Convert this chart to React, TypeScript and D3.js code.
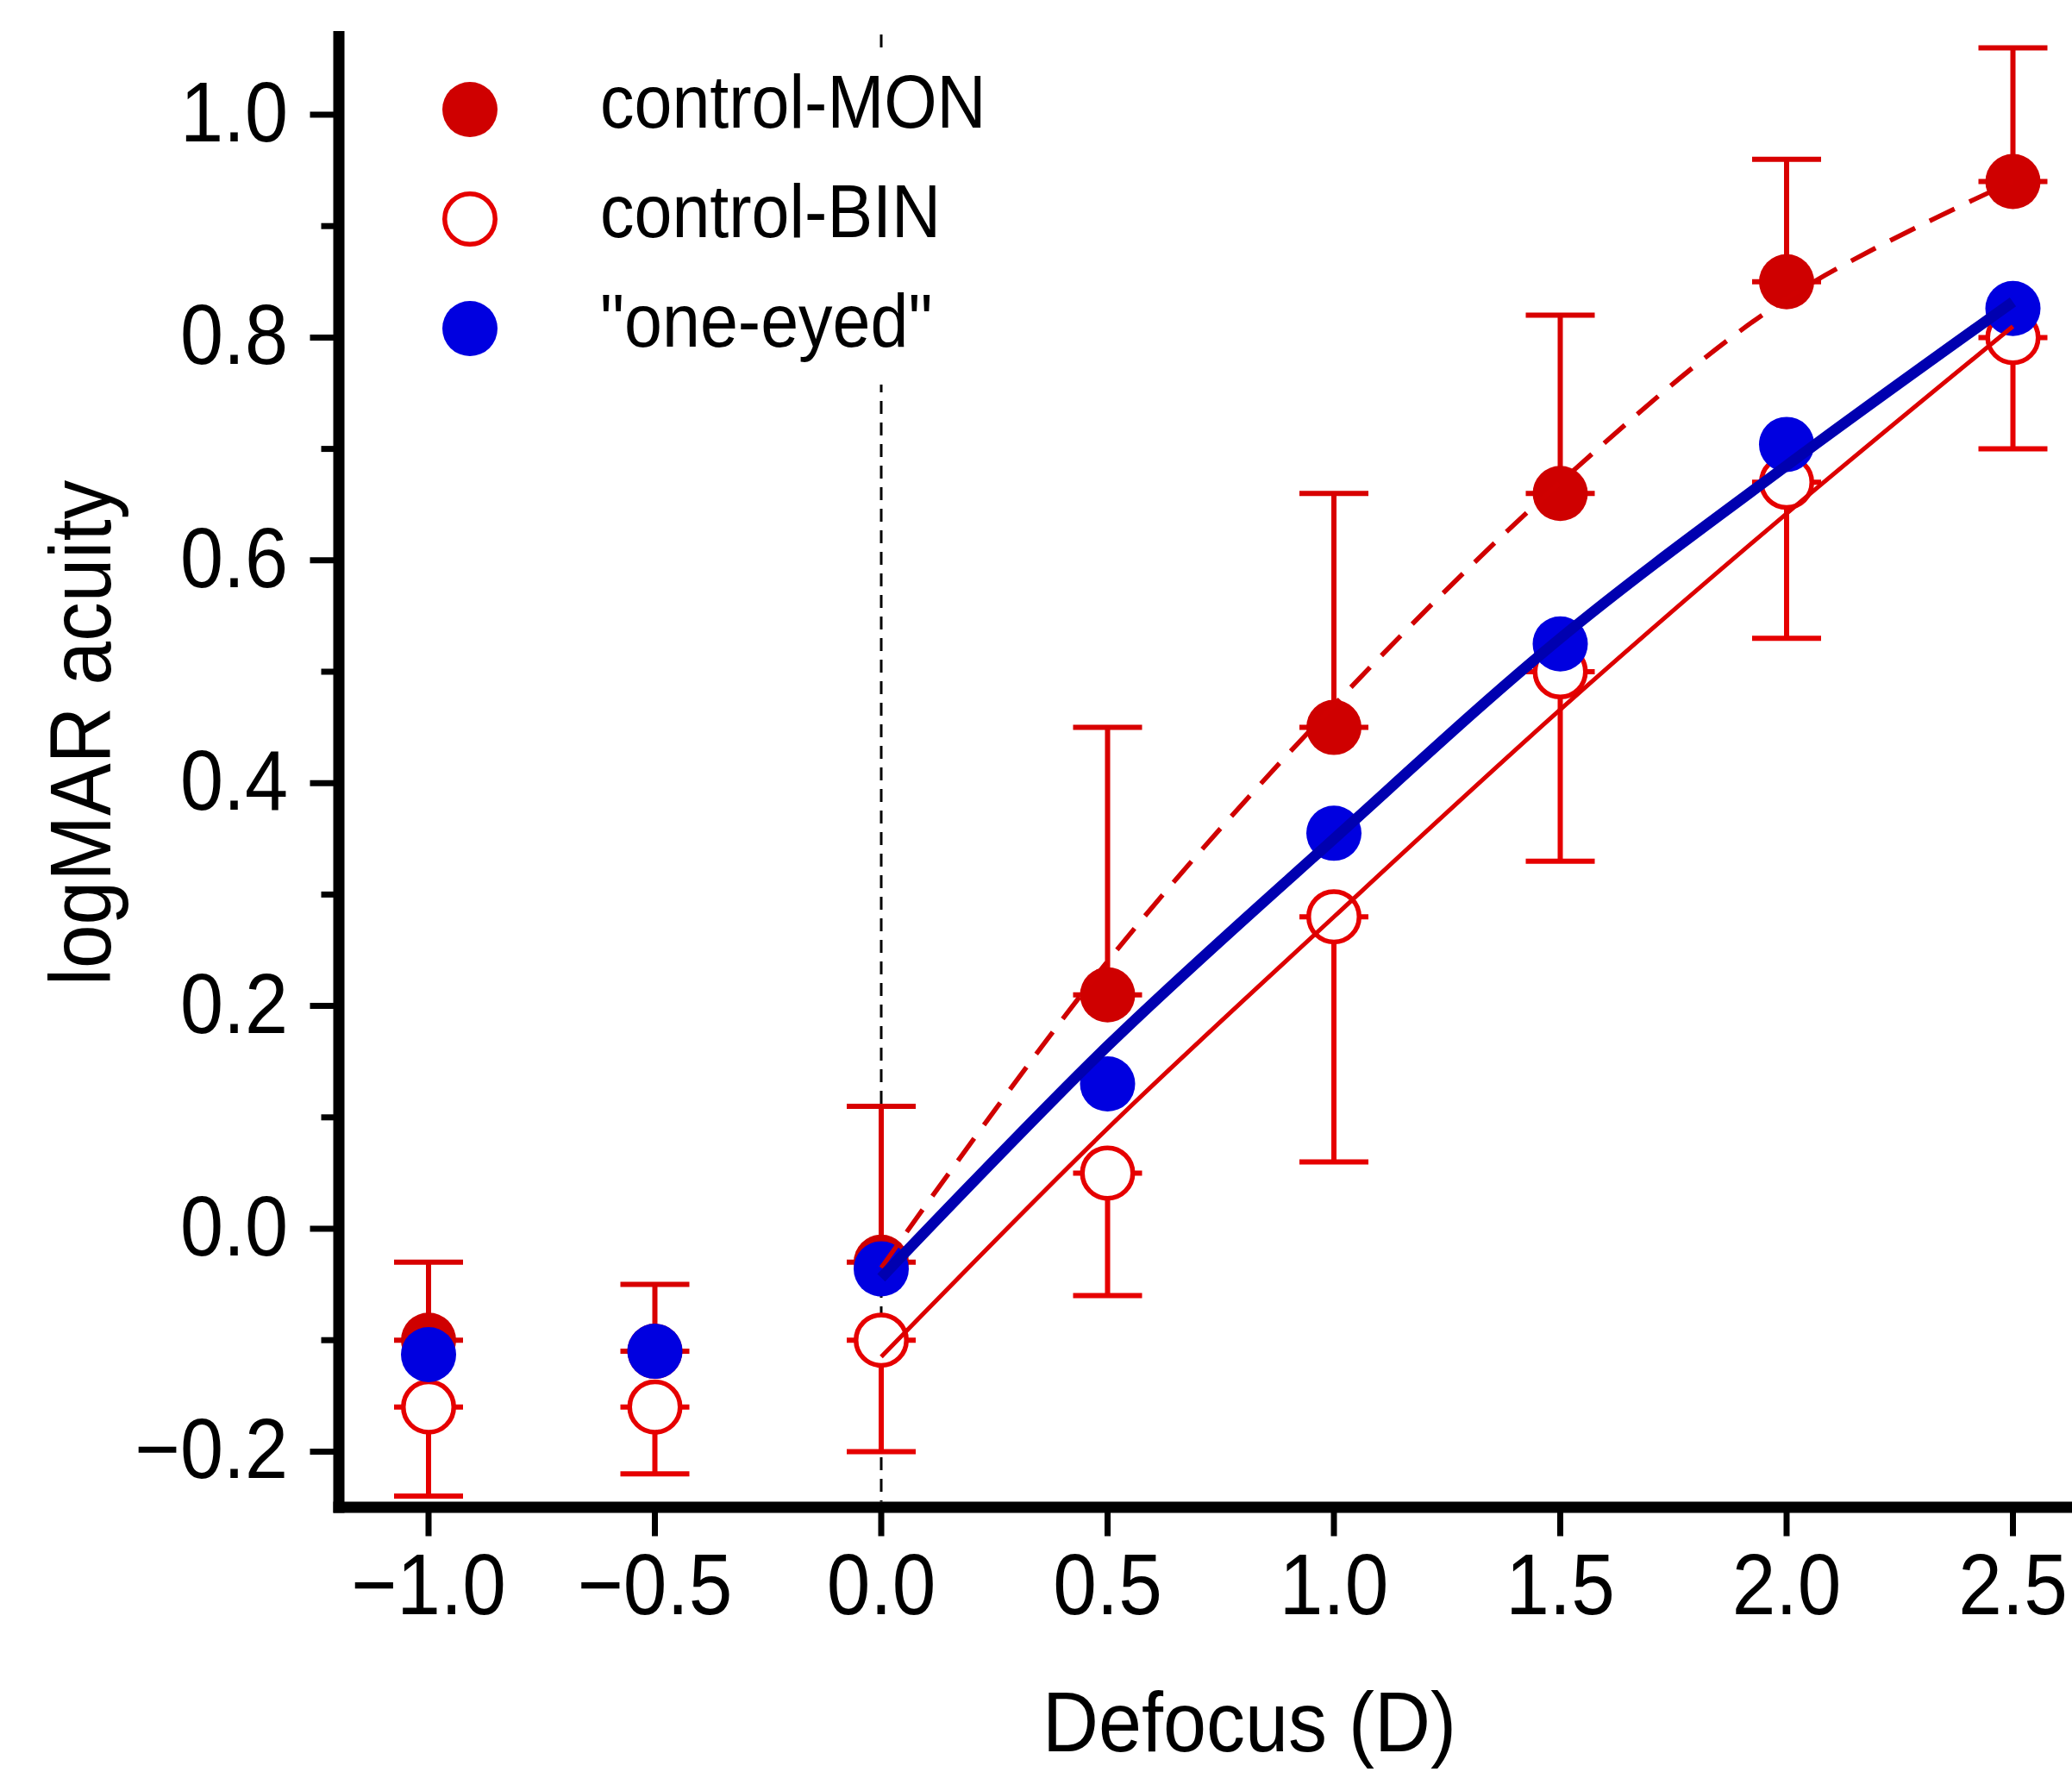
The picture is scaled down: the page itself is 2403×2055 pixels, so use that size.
import React from 'react';
import * as d3 from 'd3';

// values
const defocus = [-1.0, -0.5, 0.0, 0.5, 1.0, 1.5, 2.0, 2.5];
const monMean = [-0.10, -0.11, -0.03, 0.21, 0.45, 0.66, 0.85, 0.94];
const monUpper = [-0.03, -0.05, 0.11, 0.45, 0.66, 0.82, 0.96, 1.06];
const binMean = [-0.16, -0.16, -0.10, 0.05, 0.28, 0.50, 0.67, 0.80];
const binLower = [-0.24, -0.22, -0.20, -0.06, 0.06, 0.33, 0.53, 0.70];
const oneEyedMean = [-0.113, -0.11, -0.036, 0.13, 0.355, 0.525, 0.704, 0.826];

// fitted curves (read at each half dioptre)
const fitX = [0, 0.5, 1.0, 1.5, 2.0, 2.5];
const monFit = [-0.035, 0.24, 0.47, 0.67, 0.835, 0.94];
const binFit = [-0.115, 0.09, 0.28, 0.466, 0.642, 0.81];
const oneEyedFit = [-0.044, 0.164, 0.35, 0.53, 0.685, 0.832];

const xTicks = [-1.0, -0.5, 0.0, 0.5, 1.0, 1.5, 2.0, 2.5];
const yTicks = [-0.2, 0.0, 0.2, 0.4, 0.6, 0.8, 1.0];
const yMinor = [-0.1, 0.1, 0.3, 0.5, 0.7, 0.9];

const legendItems = [
  { label: 'control-MON', kind: 'mon' },
  { label: 'control-BIN', kind: 'bin' },
  { label: '"one-eyed"', kind: 'one' },
];

const W = 2403, H = 2055;
const FONT = '"Liberation Sans", Arial, Helvetica, sans-serif';
const C = {
  monFill: '#cf0000', monErr: '#d80000', monLine: '#d00000',
  bin: '#e60000', binLine: '#dc0000',
  blue: '#0000e0', blueLine: '#0000b0',
};
const STRETCH = 1.1; // glyphs in the figure are a little taller than Arial

function T({ x, y, size, anchor = 'start', rotate = 0, children }: any) {
  return (
    <text transform={`translate(${x},${y}) rotate(${rotate}) scale(1,${STRETCH})`} fontSize={size} textAnchor={anchor} fill="#000">
      {children}
    </text>
  );
}

export default function App() {
  const x = d3.scaleLinear().domain([-1, 2.5]).range([497, 2334.5]);
  const y = d3.scaleLinear().domain([-0.2, 1.0]).range([1683.4, 133]);
  const fmt = d3.format('.1f');
  const axisX = 393, axisY = 1748, axW = 13;
  const r = 32, capW = 40, errW = 6;

  const line = d3.line<number>().x((_, i) => x(fitX[i])).y(d => y(d)).curve(d3.curveCatmullRom);

  return (
    <div style={{ position: 'absolute', left: 0, top: 0 }}>
      <svg width={W} height={H} style={{ display: 'block', background: '#fff' }} fontFamily={FONT}>
        <rect width={W} height={H} fill="#fff" />

        {/* vertical reference at zero defocus */}
        <line x1={x(0)} x2={x(0)} y1={40} y2={axisY - axW / 2} stroke="#000" strokeWidth={3} strokeDasharray="15,10" />

        {/* legend background */}
        <rect x={470} y={60} width={720} height={386} fill="#fff" />

        {/* axes */}
        <line x1={axisX} x2={axisX} y1={36} y2={axisY + axW / 2} stroke="#000" strokeWidth={axW} />
        <line x1={axisX - axW / 2} x2={W} y1={axisY} y2={axisY} stroke="#000" strokeWidth={axW} />
        {yTicks.map(t => (
          <g key={'yt' + t}>
            <line x1={axisX - axW / 2 - 27} x2={axisX} y1={y(t)} y2={y(t)} stroke="#000" strokeWidth={7} />
            <T x={334} y={y(t) + 31} size={90} anchor="end">{fmt(t)}</T>
          </g>
        ))}
        {yMinor.map(t => (
          <line key={'ym' + t} x1={axisX - axW / 2 - 14} x2={axisX} y1={y(t)} y2={y(t)} stroke="#000" strokeWidth={7} />
        ))}
        {xTicks.map(t => (
          <g key={'xt' + t}>
            <line x1={x(t)} x2={x(t)} y1={axisY} y2={axisY + axW / 2 + 27} stroke="#000" strokeWidth={7} />
            <T x={x(t)} y={1872} size={91} anchor="middle">{fmt(t)}</T>
          </g>
        ))}
        <T x={1449} y={2031} size={90} anchor="middle">Defocus (D)</T>
        <T x={128} y={850} size={91} anchor="middle" rotate={-90}>logMAR acuity</T>

        {/* control-MON: upper error bars */}
        {defocus.map((d, i) => (
          <g key={'me' + i} stroke={C.monErr} strokeWidth={errW}>
            <line x1={x(d)} x2={x(d)} y1={y(monMean[i])} y2={y(monUpper[i])} />
            <line x1={x(d) - capW} x2={x(d) + capW} y1={y(monUpper[i])} y2={y(monUpper[i])} />
            <line x1={x(d) - capW} x2={x(d) + capW} y1={y(monMean[i])} y2={y(monMean[i])} />
          </g>
        ))}
        {/* control-BIN: lower error bars */}
        {defocus.map((d, i) => (
          <g key={'be' + i} stroke={C.bin} strokeWidth={errW}>
            <line x1={x(d)} x2={x(d)} y1={y(binMean[i])} y2={y(binLower[i])} />
            <line x1={x(d) - capW} x2={x(d) + capW} y1={y(binLower[i])} y2={y(binLower[i])} />
            <line x1={x(d) - capW} x2={x(d) + capW} y1={y(binMean[i])} y2={y(binMean[i])} />
          </g>
        ))}
        {defocus.map((d, i) => (
          <circle key={'mm' + i} cx={x(d)} cy={y(monMean[i])} r={r} fill={C.monFill} />
        ))}
        {defocus.map((d, i) => (
          <circle key={'bm' + i} cx={x(d)} cy={y(binMean[i])} r={r - 2.75} fill="#fff" stroke={C.bin} strokeWidth={5.5} />
        ))}
        {defocus.map((d, i) => (
          <circle key={'om' + i} cx={x(d)} cy={y(oneEyedMean[i])} r={r} fill={C.blue} />
        ))}

        {/* fits */}
        <path d={line(monFit) || ''} fill="none" stroke={C.monLine} strokeWidth={5.5} strokeDasharray="32,19" />
        <path d={line(binFit) || ''} fill="none" stroke={C.binLine} strokeWidth={5} />
        <path d={line(oneEyedFit) || ''} fill="none" stroke={C.blueLine} strokeWidth={12.5} />

        {/* legend */}
        {legendItems.map((it, i) => {
          const cy = 127 + i * 127;
          return (
            <g key={it.label}>
              {it.kind === 'mon' && <circle cx={545} cy={cy} r={r} fill={C.monFill} />}
              {it.kind === 'bin' && <circle cx={545} cy={cy} r={r - 2.75} fill="#fff" stroke={C.bin} strokeWidth={5.5} />}
              {it.kind === 'one' && <circle cx={545} cy={cy} r={r} fill={C.blue} />}
              <T x={696} y={cy + 21} size={79}>{it.label}</T>
            </g>
          );
        })}
      </svg>
    </div>
  );
}
